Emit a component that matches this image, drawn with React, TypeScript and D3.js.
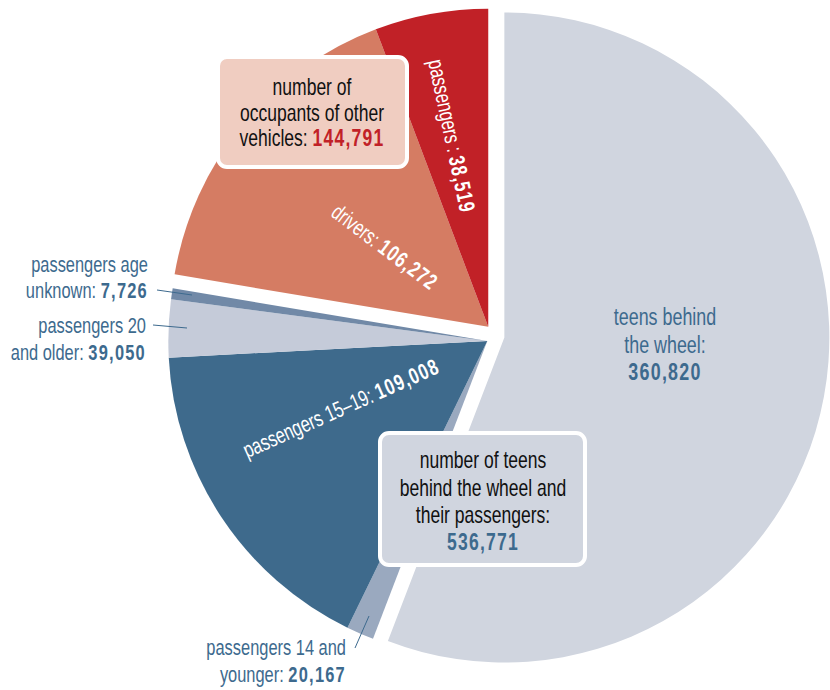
import React from 'react';
import * as d3 from 'd3';

// slices, clockwise from 12 o'clock
const categories = [
  'teens behind the wheel',
  'passengers 14 and younger',
  'passengers 15–19',
  'passengers 20 and older',
  'passengers age unknown',
  'drivers',
  'passengers',
];
const counts = [360820, 20167, 109008, 39050, 7726, 106272, 38519];
// the wedges in the picture are not drawn to scale, so keep the drawn share (degrees) apart
const drawnDegrees = [201, 5, 61, 10.5, 2, 59.8, 20.7];
const groups = ['teen', 'pass', 'pass', 'pass', 'pass', 'other', 'other'];
const colors = ['#d0d5df', '#9aa9bf', '#3e6a8c', '#c5cbd9', '#7189a7', '#d57c63', '#c12127'];

const W = 830;
const H = 690;
const cx = 496;
const cy = 336;
const explode: Record<string, number> = { teen: 8.5, pass: 10, other: 12 };
const radius: Record<string, number> = { teen: 325, pass: 319, other: 318 };

const FONT = "'Liberation Sans', Arial, sans-serif";
const SX = 0.73; // narrow the glyphs, the original uses a condensed face
const LS = 1.7; // extra spacing for the bold numbers
const BLUE = '#3d6a8e';
const fmt = d3.format(',');

type LabelProps = {
  x: number;
  y: number;
  rotate?: number;
  size?: number;
  anchor?: 'start' | 'middle' | 'end';
  fill?: string;
  bold?: boolean;
  dy?: string;
  children: React.ReactNode;
};

function Label({ x, y, rotate = 0, size = 22.5, anchor = 'middle', fill = BLUE, bold, dy, children }: LabelProps) {
  return (
    <text
      transform={`translate(${x},${y}) rotate(${rotate}) scale(${SX},1)`}
      fontFamily={FONT}
      fontSize={size}
      textAnchor={anchor}
      fill={fill}
      fontWeight={bold ? 'bold' : 'normal'}
      letterSpacing={bold ? LS : 0}
      dy={dy}
    >
      {children}
    </text>
  );
}

const B = ({ children, fill }: { children: React.ReactNode; fill?: string }) => (
  <tspan fontWeight="bold" letterSpacing={LS} fill={fill}>
    {children}
  </tspan>
);

export default function App() {
  const pie = d3.pie<number>().sort(null).value((d) => d);
  const arcs = pie(drawnDegrees);

  // offset of each group along its mid angle
  const offsets: Record<string, [number, number]> = {};
  ['teen', 'pass', 'other'].forEach((g) => {
    const members = arcs.filter((_, i) => groups[i] === g);
    const a0 = d3.min(members, (m) => m.startAngle) as number;
    const a1 = d3.max(members, (m) => m.endAngle) as number;
    const mid = (a0 + a1) / 2;
    offsets[g] = [explode[g] * Math.sin(mid), -explode[g] * Math.cos(mid)];
  });

  const teenTotal = d3.sum(counts.filter((_, i) => groups[i] !== 'other'));
  const otherTotal = d3.sum(counts.filter((_, i) => groups[i] === 'other'));

  return (
    <svg width={W} height={H} style={{ position: 'absolute', left: 0, top: 0, background: '#fff' }}>
      <g transform={`translate(${cx},${cy})`}>
        {arcs.map((a, i) => {
          const g = groups[i];
          const arc = d3.arc<d3.PieArcDatum<number>>().innerRadius(0).outerRadius(radius[g]);
          return (
            <path
              key={categories[i]}
              d={arc(a) || ''}
              fill={colors[i]}
              transform={`translate(${offsets[g][0]},${offsets[g][1]})`}
            />
          );
        })}
      </g>

      {/* labels inside wedges */}
      <Label x={452} y={136} rotate={78} fill="#fff" dy="0.35em">
        {categories[6]} : <B>{fmt(counts[6])}</B>
      </Label>
      <Label x={385} y={247} rotate={37} fill="#fff" dy="0.35em">
        {categories[5]}: <B>{fmt(counts[5])}</B>
      </Label>
      <Label x={341} y={408} rotate={-24} fill="#fff" dy="0.35em">
        {categories[2]}: <B>{fmt(counts[2])}</B>
      </Label>

      {/* teens behind the wheel */}
      <Label x={665} y={325} size={24.5}>teens behind</Label>
      <Label x={665} y={353} size={24.5}>the wheel:</Label>
      <Label x={665} y={380} size={24.5} bold>{fmt(counts[0])}</Label>

      {/* outside labels */}
      <Label x={148} y={272} anchor="end">passengers age</Label>
      <Label x={148} y={298} anchor="end">unknown: <B>{fmt(counts[4])}</B></Label>
      <Label x={146} y={333} anchor="end">passengers 20</Label>
      <Label x={146} y={360} anchor="end">and older: <B>{fmt(counts[3])}</B></Label>
      <Label x={346} y={655} anchor="end">passengers 14 and</Label>
      <Label x={346} y={682} anchor="end">younger: <B>{fmt(counts[1])}</B></Label>
      <g stroke={BLUE} strokeWidth={1}>
        <line x1={157} y1={290} x2={192} y2={295} />
        <line x1={153} y1={325} x2={187} y2={328} />
        <line x1={355} y1={648} x2={369} y2={616} />
      </g>

      {/* group total boxes */}
      <rect x={218} y={57} width={189} height={110} rx={9} fill="#f0cdc1" stroke="#fff" strokeWidth={4} />
      <Label x={312} y={95} size={24} fill="#111">number of</Label>
      <Label x={312} y={121} size={24} fill="#111">occupants of other</Label>
      <Label x={312} y={146} size={24} fill="#111">
        vehicles: <B fill="#c12127">{fmt(otherTotal)}</B>
      </Label>

      <rect x={380} y={433} width={205} height={132} rx={9} fill="#d0d5df" stroke="#fff" strokeWidth={4} />
      <Label x={483} y={468} size={24} fill="#111">number of teens</Label>
      <Label x={483} y={496} size={24} fill="#111">behind the wheel and</Label>
      <Label x={483} y={523} size={24} fill="#111">their passengers:</Label>
      <Label x={483} y={550} size={24} bold>{fmt(teenTotal)}</Label>
    </svg>
  );
}
